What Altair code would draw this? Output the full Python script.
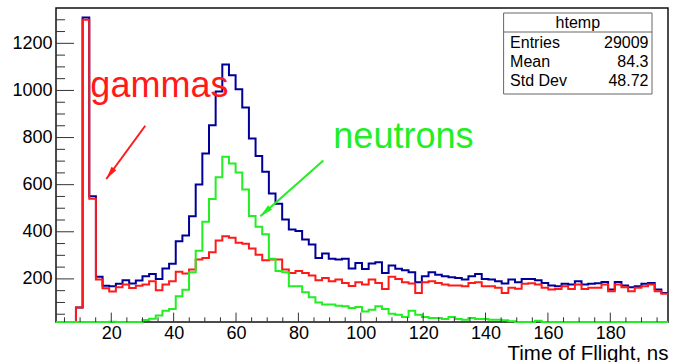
import altair as alt
import pandas as pd
import numpy as np

# ---- histogram binning (axis range of the ROOT frame) ----
x_min, x_max = 2.28, 198.5
n_bins = 92

# ---- series values (counts per bin) ----
total = [0, 0, 0, 79, 1310, 551, 209, 171, 169, 179,
         194, 180, 193, 211, 221, 200, 244, 264, 360, 384,
         466, 601, 732, 852, 995, 1110, 1065, 1005, 928, 796,
         722, 655, 563, 519, 452, 410, 403, 367, 346, 289,
         308, 285, 282, 285, 244, 268, 242, 265, 271, 225,
         257, 243, 237, 228, 186, 211, 228, 218, 211, 207,
         204, 197, 211, 221, 200, 197, 190, 180, 197, 186,
         200, 200, 194, 183, 172, 169, 179, 176, 190, 176,
         179, 181, 187, 155, 187, 172, 164, 169, 179, 183,
         155, 140]
gammas = [0, 0, 0, 79, 1300, 540, 197, 160, 147, 165,
          176, 161, 171, 176, 190, 152, 176, 190, 230, 223,
          240, 282, 289, 313, 363, 381, 375, 353, 349, 329,
          303, 279, 282, 282, 240, 225, 233, 225, 214, 194,
          204, 190, 197, 183, 170, 186, 176, 197, 183, 157,
          209, 200, 186, 180, 140, 186, 190, 183, 176, 172,
          172, 169, 183, 186, 169, 169, 162, 140, 162, 158,
          179, 181, 176, 162, 155, 157, 169, 157, 176, 157,
          162, 162, 176, 148, 176, 164, 148, 162, 169, 176,
          148, 137]
neutrons = [0, 0, 0, 0, 0, 0, 0, 3, 18, 4,
            5, 8, 12, 25, 31, 45, 65, 72, 126, 154,
            228, 319, 443, 539, 632, 719, 690, 652, 579, 467,
            421, 389, 285, 233, 228, 169, 169, 143, 122, 100,
            91, 91, 86, 84, 76, 81, 62, 69, 84, 72,
            52, 48, 38, 65, 48, 38, 34, 34, 30, 38,
            30, 27, 34, 30, 30, 27, 27, 24, 20, 16,
            13, 15, 22, 12, 10, 8, 10, 8, 6, 8,
            6, 5, 6, 4, 5, 4, 3, 4, 3, 4,
            3, 2]

x_major = [20, 40, 60, 80, 100, 120, 140, 160, 180]
x_minor = [v for v in range(5, 200, 5) if v % 20 != 0]
y_major = [200, 400, 600, 800, 1000, 1200]
y_minor = [v for v in range(50, 1301, 50) if v % 200 != 0]

stat_names = ["Entries", "Mean", "Std Dev"]
stat_values = ["29009", "84.3", "48.72"]

# annotations (data coordinates)
gam_text = (13.3, 971)
neu_text = (91.2, 757)
red_arrow = [(30.9, 850), (18.4, 624)]
green_arrow = [(88.0, 703), (67.8, 466)]

W, H = 612, 314
FONT = "Liberation Sans"

edges = np.linspace(x_min, x_max, n_bins + 1)


def step_df(vals):
    return pd.DataFrame({"t": list(edges), "n": list(vals) + [vals[-1]],
                         "o": list(range(n_bins + 1))})


xs = alt.Scale(domain=[x_min, x_max], nice=False, zero=False)
ys = alt.Scale(domain=[17, 1350], nice=False, zero=False, clamp=True)

x_axis = alt.Axis(values=x_major, format="d", ticks=False, domain=False, grid=False,
                  labelFontSize=18, labelFont=FONT, labelColor="black",
                  labelPadding=2, labelFlush=False,
                  title="Time of Fllight, ns", titleFontSize=20.5, titleFont=FONT,
                  titleFontWeight="normal", titleColor="black",
                  titleAnchor="end", titleAlign="right", titleX=W, titleY=37,
                  titleBaseline="alphabetic")
y_axis = alt.Axis(values=y_major, format="d", ticks=False, domain=False, grid=False,
                  labelFontSize=18, labelFont=FONT, labelColor="black",
                  labelPadding=4, title=None)


def X(field):
    return alt.X(field, type="quantitative", scale=xs, axis=x_axis)


def Y(field):
    return alt.Y(field, type="quantitative", scale=ys, axis=y_axis)


def hist(vals, color):
    return alt.Chart(step_df(vals)).mark_line(
        interpolate="step-after", color=color, strokeWidth=2,
        strokeJoin="miter", strokeCap="butt").encode(
        x=X("t"), y=Y("n"), order="o:Q")


layers = [hist(total, "#000099"), hist(gammas, "#ff1a1a"), hist(neutrons, "#22ee22")]


# ticks (ROOT style, inside the frame)
def xticks(vals, length):
    return alt.Chart(pd.DataFrame({"t": vals})).mark_rule(color="#333", strokeWidth=1).encode(
        x=X("t"), y=alt.value(H), y2=alt.value(H - length))


def yticks(vals, length):
    return alt.Chart(pd.DataFrame({"n": vals})).mark_rule(color="#333", strokeWidth=1).encode(
        y=Y("n"), x=alt.value(0), x2=alt.value(length))


layers += [xticks(x_major, 9.4), xticks(x_minor, 4.7), yticks(y_major, 18), yticks(y_minor, 9)]


def arrow(pts, color, angle):
    df = pd.DataFrame({"t": [p[0] for p in pts], "n": [p[1] for p in pts], "o": [0, 1]})
    line = alt.Chart(df).mark_line(color=color, strokeWidth=2).encode(
        x=X("t"), y=Y("n"), order="o:Q")
    head = alt.Chart(df.iloc[[1]]).mark_point(
        shape="M0,0L0.45,2L-0.45,2Z", filled=True, size=170, angle=angle,
        color=color, opacity=1).encode(x=X("t"), y=Y("n"))
    return [line, head]


layers += arrow(red_arrow, "#ff1a1a", 216)
layers += arrow(green_arrow, "#22ee22", 228)


def label(pos, text, color):
    df = pd.DataFrame({"t": [pos[0]], "n": [pos[1]], "s": [text]})
    return alt.Chart(df).mark_text(font=FONT, fontSize=36, color=color, align="left",
                                   baseline="alphabetic").encode(
        x=X("t"), y=Y("n"), text="s:N")


layers += [label(gam_text, "gammas", "#ff1a1a"), label(neu_text, "neutrons", "#22ee22")]

# stats box
bx0, bx1, by0, by1, bhead = 447.6, 596, 5, 86, 24
one = pd.DataFrame({"a": [0]})
layers.append(alt.Chart(one).mark_rect(fill="white", stroke="#666", strokeWidth=1).encode(
    x=alt.value(bx0), x2=alt.value(bx1), y=alt.value(by0), y2=alt.value(by1)))
layers.append(alt.Chart(one).mark_rule(color="#666", strokeWidth=1).encode(
    x=alt.value(bx0), x2=alt.value(bx1), y=alt.value(bhead)))
layers.append(alt.Chart(pd.DataFrame({"s": ["htemp"]})).mark_text(
    font=FONT, fontSize=16, color="black", align="center", baseline="middle").encode(
    x=alt.value((bx0 + bx1) / 2), y=alt.value(14.5), text="s:N"))
for i, (nm, vl) in enumerate(zip(stat_names, stat_values)):
    yy = 35 + i * 19.2
    layers.append(alt.Chart(pd.DataFrame({"s": [nm]})).mark_text(
        font=FONT, fontSize=16, color="black", align="left", baseline="middle").encode(
        x=alt.value(bx0 + 6.5), y=alt.value(yy), text="s:N"))
    layers.append(alt.Chart(pd.DataFrame({"s": [vl]})).mark_text(
        font=FONT, fontSize=16, color="black", align="right", baseline="middle").encode(
        x=alt.value(bx1 - 3.5), y=alt.value(yy), text="s:N"))

chart = alt.layer(*layers).properties(
    width=W, height=H,
    autosize=alt.AutoSizeParams(type="none"),
    padding={"left": 56, "top": 8, "right": 6, "bottom": 40},
    background="white",
).configure_view(stroke="#111", strokeWidth=1.5)

chart.save("out.html", embed_options={"renderer": "svg", "actions": False})
